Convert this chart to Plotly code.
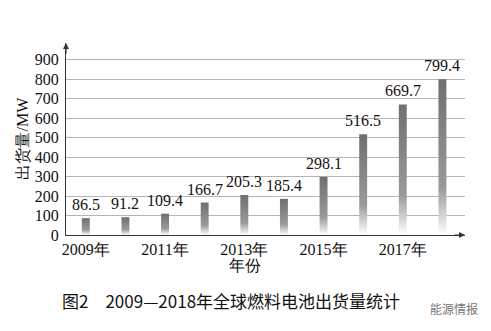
import plotly.graph_objects as go

years = ["2009", "2010", "2011", "2012", "2013", "2014", "2015", "2016", "2017", "2018"]
values = [86.5, 91.2, 109.4, 166.7, 205.3, 185.4, 298.1, 516.5, 669.7, 799.4]
tick_years = ["2009年", "2011年", "2013年", "2015年", "2017年"]
tick_vals = [0, 100, 200, 300, 400, 500, 600, 700, 800, 900]

SERIF = "Times New Roman, Liberation Serif, serif"
SANS = "Noto Sans CJK SC"
HALF = 0.1

W, H = 491, 331
ML, MR, MT, MB = 66, 26, 43, 96
PW, PH = W - ML - MR, H - MT - MB


def px_x(px):
    return (px - ML) / PW


def px_y(py):
    return (H - MB - py) / PH


fig = go.Figure()
for i, v in enumerate(values):
    fig.add_trace(go.Scatter(
        x=[i - HALF, i + HALF, i + HALF, i - HALF, i - HALF],
        y=[0, 0, v, v, 0],
        mode="lines", line=dict(width=0), fill="toself",
        fillgradient=dict(type="vertical",
                          colorscale=[[0, "#ffffff"], [0.3, "#9a9a9a"], [1, "#6f6f6f"]]),
        hoverinfo="skip", showlegend=False,
    ))

for i, v in enumerate(values):
    fig.add_annotation(x=i, y=v, text=f"{v:.1f}", showarrow=False,
                       yanchor="bottom", yshift=3,
                       font=dict(family=SERIF, size=16, color="#111"))

tick_pos = [years.index(t[:4]) for t in tick_years]

fig.update_layout(
    width=W, height=H,
    margin=dict(l=ML, r=MR, t=MT, b=MB),
    paper_bgcolor="white", plot_bgcolor="white",
    font=dict(family=SERIF, size=16, color="#111"),
    xaxis=dict(range=[-0.5, 9.57], tickmode="array", tickvals=tick_pos, ticktext=tick_years,
               showgrid=False, zeroline=False, showline=True, linecolor="#333", linewidth=1.2,
               ticks="", tickfont=dict(family=SERIF, size=16, color="#111")),
    yaxis=dict(range=[0, 985], tickmode="array", tickvals=tick_vals,
               showgrid=True, gridcolor="#b5b5b5", gridwidth=1, zeroline=False,
               showline=True, linecolor="#333", linewidth=1.2, ticks="",
               ticklabelstandoff=3,
               tickfont=dict(family=SERIF, size=16, color="#111")),
)

# axis arrows
fig.add_annotation(x=0, y=1.0, xref="paper", yref="paper", ax=0, ay=12,
                   showarrow=True, arrowhead=2, arrowsize=1, arrowwidth=1.2, arrowcolor="#333", text="")
fig.add_annotation(x=1.0, y=0, xref="paper", yref="paper", ax=-12, ay=0,
                   showarrow=True, arrowhead=2, arrowsize=1, arrowwidth=1.2, arrowcolor="#333", text="")

# axis titles
fig.add_annotation(x=px_x(245), y=px_y(276), xref="paper", yref="paper", text="年份", showarrow=False,
                   font=dict(family=SERIF, size=16, color="#111"))
fig.add_annotation(x=px_x(11), y=px_y(138), xref="paper", yref="paper", text="出货量/MW", showarrow=False,
                   textangle=-90, font=dict(family=SERIF, size=16, color="#111"))

# caption and watermark
fig.add_annotation(x=px_x(60), y=px_y(315), xref="paper", yref="paper",
                   text="图2　2009—2018年全球燃料电池出货量统计",
                   showarrow=False, xanchor="left", font=dict(family=SANS, size=17, color="#111"))
fig.add_annotation(x=px_x(428), y=px_y(319), xref="paper", yref="paper", text="能源情报",
                   showarrow=False, xanchor="left", font=dict(family=SANS, size=12, color="#777"))

fig.write_html("out.html")
